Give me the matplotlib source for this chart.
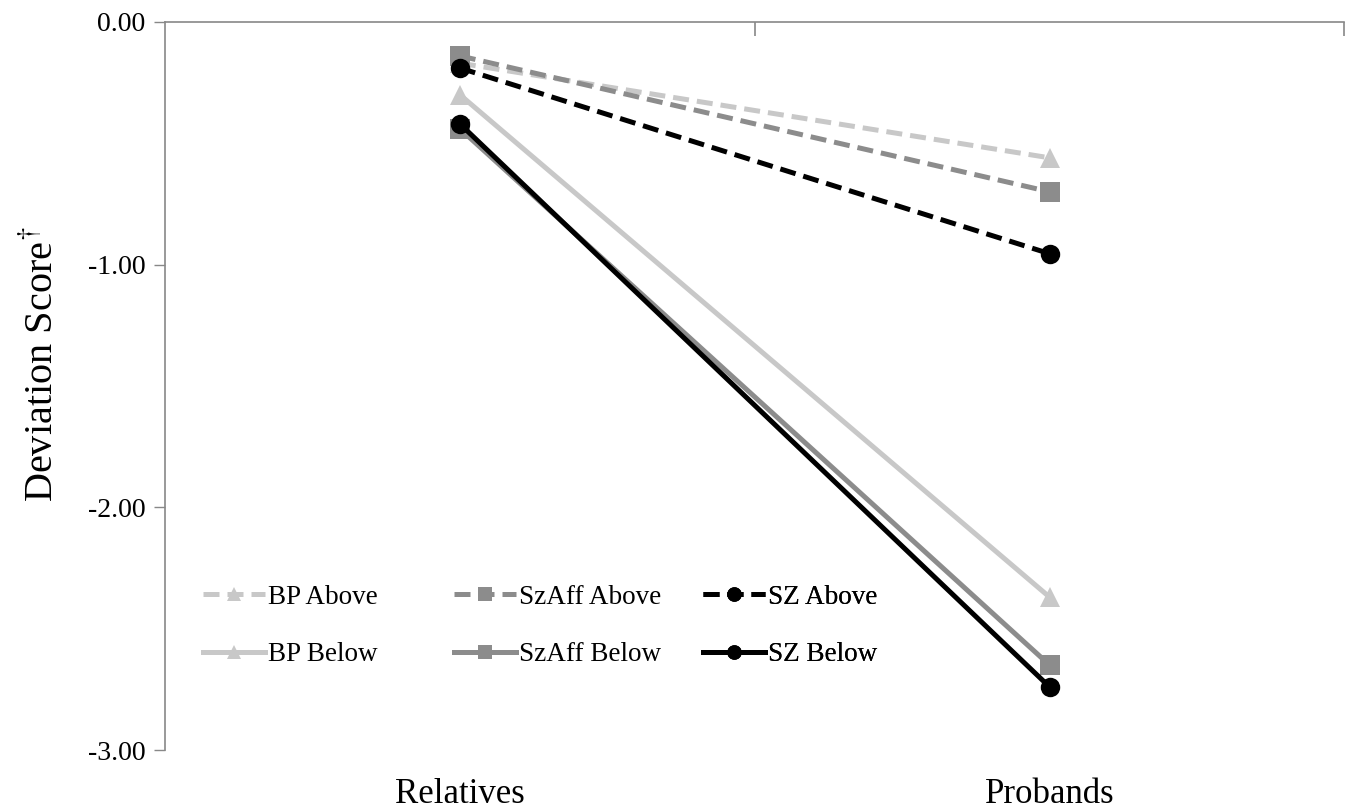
import matplotlib
matplotlib.use("Agg")
import matplotlib.pyplot as plt

plt.rcParams["font.family"] = ["Liberation Serif", "DejaVu Serif"]
plt.rcParams["mathtext.fontset"] = "stix"
plt.rcParams["axes.unicode_minus"] = False

# ── Data ──────────────────────────────────────────────────────────────────────
groups = ["Relatives", "Probands"]
bp_above    = [-0.17, -0.56]
szaff_above = [-0.14, -0.70]
sz_above    = [-0.19, -0.955]
bp_below    = [-0.30, -2.37]
szaff_below = [-0.44, -2.65]
sz_below    = [-0.42, -2.74]
y_ticks = [0, -1, -2, -3]
y_tick_labels = ["0.00", "-1.00", "-2.00", "-3.00"]

LIGHT = "#c8c8c8"
MID   = "#8c8c8c"
DARK  = "#000000"
DASH  = (0, (3.2, 1.6))

series = [
    ("BP Above",    bp_above,    LIGHT, "^", DASH),
    ("SzAff Above", szaff_above, MID,   "s", DASH),
    ("SZ Above",    sz_above,    DARK,  "o", DASH),
    ("BP Below",    bp_below,    LIGHT, "^", "-"),
    ("SzAff Below", szaff_below, MID,   "s", "-"),
    ("SZ Below",    sz_below,    DARK,  "o", "-"),
]

# ── Draw ──────────────────────────────────────────────────────────────────────
fig = plt.figure(figsize=(13.58, 8.11), dpi=100, facecolor="white")
ax = fig.add_axes([0.1215, 0.0752, 0.8685, 0.8978])

xs = list(range(len(groups)))
handles = {}
for name, vals, color, marker, ls in series:
    ln, = ax.plot(xs, vals, color=color, linestyle=ls, linewidth=3.6,
                  marker=marker, markersize=14, markeredgewidth=0,
                  label=name)
    handles[name] = ln

ax.set_xlim(-0.5, 1.5)
ax.set_ylim(-3, 0)

# y axis
ax.set_yticks(y_ticks)
ax.set_yticklabels(y_tick_labels, fontsize=20)
ax.tick_params(axis="y", direction="out", length=8, width=1, color="#888888", pad=6)
ax.set_ylabel(r"Deviation Score$^{\dagger}$", fontsize=29)
ax.yaxis.set_label_coords(-0.088, 0.53)

# x axis: spine at the top (y = 0), category labels at the bottom
for s in ["right", "bottom"]:
    ax.spines[s].set_visible(False)
ax.spines["top"].set_color("#888888")
ax.spines["left"].set_color("#888888")
ax.spines["top"].set_linewidth(1.2)
ax.spines["left"].set_linewidth(1.2)

ax.set_xticks(xs)
ax.set_xticklabels(groups, fontsize=25)
ax.tick_params(axis="x", which="major", length=0, pad=20)
ax.set_xticks([0.5, 1.5], minor=True)
ax.tick_params(axis="x", which="minor", top=True, bottom=False, direction="in",
               length=10, width=1.2, color="#888888")

# Legend: three fixed-width columns, two rows each
columns = [["BP Above", "BP Below"],
           ["SzAff Above", "SzAff Below"],
           ["SZ Above", "SZ Below"]]
col_x = [0.0322, 0.2449, 0.456]
for names, x0 in zip(columns, col_x):
    leg = ax.legend([handles[n] for n in names], names, frameon=False,
                    fontsize=19.5, loc="upper left", bbox_to_anchor=(x0, 0.227),
                    borderpad=0, borderaxespad=0, handlelength=2.3,
                    handletextpad=0.1, labelspacing=1.2, markerscale=0.75)
    ax.add_artist(leg)

fig.savefig("out.png", dpi=100, facecolor="white")
